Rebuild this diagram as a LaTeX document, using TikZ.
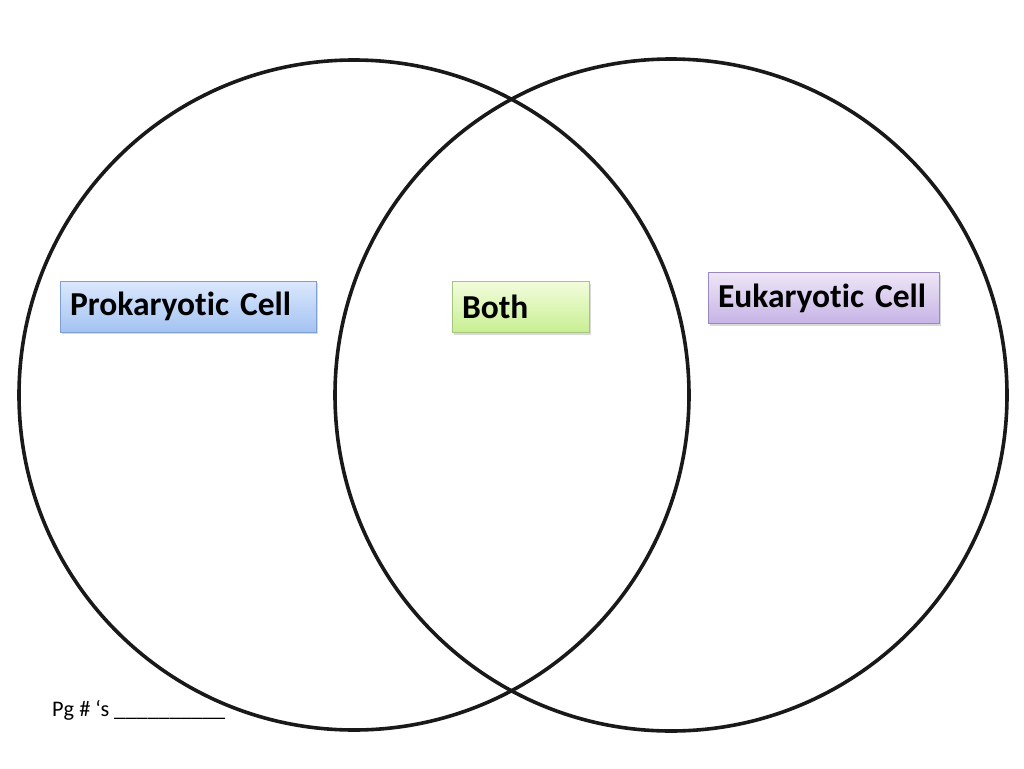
\documentclass[tikz,border=0pt]{standalone}
\usepackage{fontspec}
\setmainfont{Carlito}[RawFeature=-liga]
\usetikzlibrary{shadows}

\definecolor{prokTop}{HTML}{DCE8FC}
\definecolor{prokBot}{HTML}{A3C3F3}
\definecolor{prokLine}{HTML}{7F9FD0}
\definecolor{bothTop}{HTML}{F2FCDC}
\definecolor{bothBot}{HTML}{C8EF92}
\definecolor{bothLine}{HTML}{A6C57C}
\definecolor{eukTop}{HTML}{EEE6F7}
\definecolor{eukBot}{HTML}{C6B3E6}
\definecolor{eukLine}{HTML}{9B87C1}

\tikzset{
  cellbox/.style={draw, line width=0.8pt, inner sep=10pt, align=left,
    minimum height=51pt, font=\fontsize{33.5}{36}\selectfont\bfseries,
    drop shadow={opacity=0.3, shadow xshift=2pt, shadow yshift=-2pt}},
  ring/.style={line width=3.6pt, black!90}
}

\begin{document}
\begin{tikzpicture}[x=1pt, y=-1pt]
\useasboundingbox (0,0) rectangle (1024,768);

% The two sets
\coordinate (lc) at (354,395);
\coordinate (rc) at (671,395);
\draw[ring] (lc) circle[radius=335pt];
\draw[ring] (rc) circle[radius=336pt];

% Labels of the regions
\node[cellbox, top color=prokTop, bottom color=prokBot, draw=prokLine,
  text width=236pt] (prok) at (188,306.5) {Prokaryotic Cell};
\node[cellbox, top color=bothTop, bottom color=bothBot, draw=bothLine,
  text width=117pt] (both) at (520.5,307) {Both};
\node[cellbox, top color=eukTop, bottom color=eukBot, draw=eukLine,
  text width=211pt] (euk) at (823.5,298) {Eukaryotic Cell};

% Page numbers line
\node[anchor=base west, inner sep=0pt, font=\fontsize{22.3}{26}\selectfont]
  (pg) at (52,716) {Pg \# ‘s \_\_\_\_\_\_\_\_\_\_};

\end{tikzpicture}
\end{document}
